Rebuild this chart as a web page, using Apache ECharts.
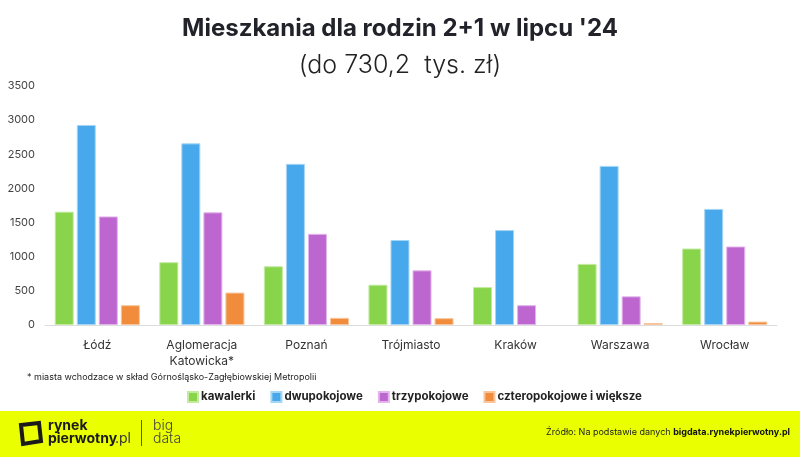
<!DOCTYPE html>
<html><head><meta charset="utf-8">
<script src="https://cdn.jsdelivr.net/npm/echarts@6/dist/echarts.min.js"></script>
<style>html,body{margin:0;padding:0;background:#fff}#c{width:800px;height:457px}</style>
</head><body><div id="c"></div>
<script>
const categories = ['Łódź', 'Aglomeracja\nKatowicka*', 'Poznań', 'Trójmiasto', 'Kraków', 'Warszawa', 'Wrocław'];
const seriesNames = ['kawalerki', 'dwupokojowe', 'trzypokojowe', 'czteropokojowe i większe'];
const kawalerki = [1660, 920, 860, 590, 555, 895, 1120];
const dwupokojowe = [2930, 2660, 2360, 1245, 1390, 2330, 1700];
const trzypokojowe = [1590, 1650, 1335, 800, 290, 420, 1150];
const czteropokojowe = [290, 475, 105, 100, 0, 30, 50];
const yTicks = [0, 500, 1000, 1500, 2000, 2500, 3000, 3500];
const colors = ['#88d44b', '#47a9eb', '#bd66d0', '#f08c3b'];
const borders = ['#c4eaa0', '#a6d6f6', '#e2b5ec', '#f8c59c'];
const values = [kawalerki, dwupokojowe, trzypokojowe, czteropokojowe];

const chart = echarts.init(document.getElementById('c'), null, {renderer: 'canvas'});
const font = 'Inter, "Noto Sans", sans-serif';
chart.setOption({
  animation: false,
  textStyle: {fontFamily: font},
  title: [
    {text: "Mieszkania dla rodzin 2+1 w lipcu '24", left: 'center', top: 12,
     textStyle: {fontSize: 24, fontWeight: 'bold', color: '#22222a', fontFamily: font}},
    {text: '(do 730,2  tys. zł)', left: 'center', top: 48,
     textStyle: {fontSize: 25, fontWeight: 300, color: '#222', fontFamily: font}}
  ],
  legend: {
    data: seriesNames, left: 187, top: 391, padding: 0, itemWidth: 10, itemHeight: 10, itemGap: 15,
    icon: 'rect',
    textStyle: {fontSize: 11.5, fontWeight: 'bold', color: '#222', fontFamily: font, padding: [0, 0, 0, -2]}
  },
  grid: {left: 45, right: 23, top: 86, bottom: 132},
  xAxis: {
    type: 'category', data: categories,
    axisLine: {lineStyle: {color: '#ddd', width: 1}},
    axisTick: {show: false},
    axisLabel: {fontSize: 12, color: '#333', margin: 12, lineHeight: 16, fontFamily: font}
  },
  yAxis: {
    type: 'value', min: 0, max: 3500, interval: 500,
    axisLine: {show: false}, axisTick: {show: false}, splitLine: {show: false},
    axisLabel: {fontSize: 11, color: '#444', margin: 10, fontFamily: font,
      formatter: v => yTicks.includes(v) ? String(v) : ''}
  },
  series: values.map((d, i) => ({
    name: seriesNames[i], type: 'bar',
    data: d.map(v => v === 0 ? {value: v, itemStyle: {borderWidth: 0}} : v),
    barWidth: 19, barGap: '16%',
    itemStyle: {color: colors[i], borderColor: borders[i], borderWidth: 1}
  })),
  graphic: [
    {type: 'text', left: 27, top: 373, style: {text: '* miasta wchodzace w skład Górnośląsko-Zagłębiowskiej Metropolii', fontSize: 9, fill: '#222', fontFamily: font}},
    {type: 'rect', left: 0, top: 411, shape: {width: 800, height: 46}, style: {fill: '#eaff00'}},
    {type: 'polygon', shape: {points: [[21,425],[39,423],[41,441],[23,444]]}, style: {fill: 'none', stroke: '#1a1a1a', lineWidth: 4}},
    {type: 'text', left: 48, top: 419, style: {text: 'rynek', fontSize: 14, fontWeight: 'bold', fill: '#1a1a1a', fontFamily: font}},
    {type: 'text', left: 48, top: 432, style: {text: 'pierwotny', fontSize: 14, fontWeight: 'bold', fill: '#1a1a1a', fontFamily: font}},
    {type: 'text', left: 115, top: 432, style: {text: '.pl', fontSize: 14, fill: '#333', fontFamily: font}},
    {type: 'rect', left: 141, top: 420, shape: {width: 1, height: 26}, style: {fill: '#555'}},
    {type: 'text', left: 153, top: 419, style: {text: 'big', fontSize: 14, fontWeight: 300, fill: '#444', fontFamily: font}},
    {type: 'text', left: 153, top: 432, style: {text: 'data', fontSize: 14, fontWeight: 300, fill: '#444', fontFamily: font}},
    {type: 'text', right: 10, top: 428, style: {rich: {a: {fontSize: 9, fill: '#222', fontFamily: font}, b: {fontSize: 9, fontWeight: 'bold', fill: '#111', fontFamily: font}}, text: '{a|Źródło: Na podstawie danych }{b|bigdata.rynekpierwotny.pl}'}}
  ]
});
</script></body></html>
